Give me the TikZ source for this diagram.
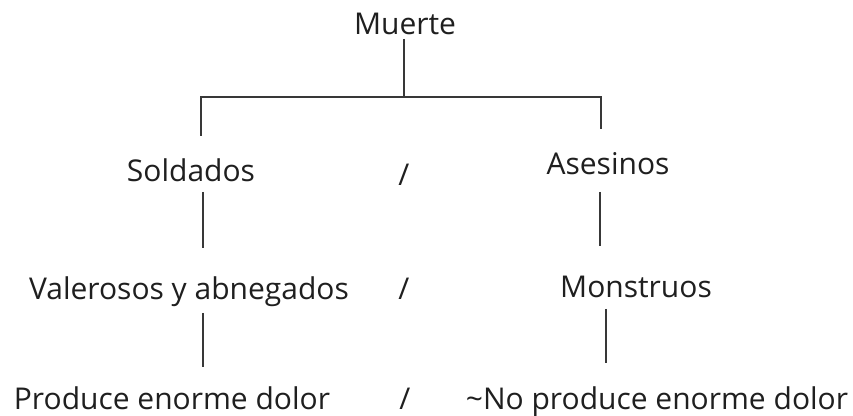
\documentclass[tikz,border=0pt]{standalone}
\usepackage{fontspec}
\setmainfont{Open Sans}
\begin{document}
\begin{tikzpicture}[x=0.75pt, y=-0.75pt,
  txt/.style={anchor=base, inner sep=0pt, font=\fontsize{22.5}{27}\selectfont, text=black!88},
  conn/.style={draw=black!78, line width=1.2pt}]
\useasboundingbox (0,0) rectangle (853,416);

\node[txt] (muerte) at (405,35) {Muerte};
\node[txt] (soldados) at (191,182) {Soldados};
\node[txt] (sep1) at (404,186) {/};
\node[txt] (asesinos) at (608,175) {Asesinos};
\node[txt] (valerosos) at (189,300) {Valerosos y abnegados};
\node[txt] (sep2) at (404,300) {/};
\node[txt] (monstruos) at (636,298) {Monstruos};
\node[txt] (produce) at (172,410) {Produce enorme dolor};
\node[txt] (sep3) at (405,410) {/};
\node[txt] (noproduce) at (657,410) {\textasciitilde No produce enorme dolor};

\coordinate (m) at (404,39);
\coordinate (j) at (404,97);
\coordinate (jl) at (201,97);
\coordinate (jr) at (601,97);
\coordinate (l1) at (201,136);
\coordinate (r1) at (601,129);
\coordinate (l2a) at (203,192);
\coordinate (l2b) at (203,248);
\coordinate (r2a) at (600,192);
\coordinate (r2b) at (600,246);
\coordinate (l3a) at (203,313);
\coordinate (l3b) at (203,367);
\coordinate (r3a) at (606,309);
\coordinate (r3b) at (606,363);

\draw[conn] (m) -- (j);
\draw[conn] (l1) -- (jl) -- (jr) -- (r1);
\draw[conn] (l2a) -- (l2b);
\draw[conn] (r2a) -- (r2b);
\draw[conn] (l3a) -- (l3b);
\draw[conn] (r3a) -- (r3b);
\end{tikzpicture}
\end{document}
